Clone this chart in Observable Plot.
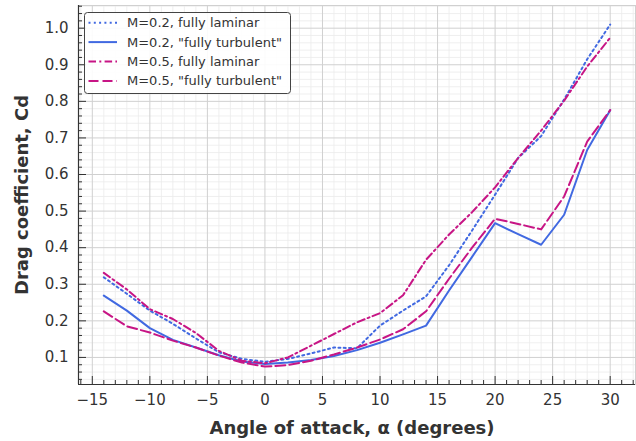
<!DOCTYPE html>
<html><head><meta charset="utf-8">
<script src="https://cdn.jsdelivr.net/npm/d3@7"></script>
<script src="https://cdn.jsdelivr.net/npm/@observablehq/plot@0.6"></script>
<style>
body{margin:0;background:#fff;}
#wrap{position:relative;width:636px;height:441px;font-family:"DejaVu Sans",sans-serif;}
#legend{position:absolute;left:84px;top:12px;}
</style>
</head><body><div id="wrap"></div>
<script>
const angles = [-14,-12,-10,-8,-6,-4,-2,0,2,4,6,8,10,12,14,16,18,20,22,24,26,28,30];
const m02Laminar   = [0.319,0.274,0.228,0.192,0.152,0.114,0.096,0.088,0.096,0.111,0.127,0.125,0.187,0.228,0.267,0.352,0.447,0.545,0.645,0.705,0.805,0.915,1.010];
const m02Turbulent = [0.269,0.228,0.180,0.148,0.127,0.106,0.089,0.082,0.086,0.093,0.104,0.120,0.140,0.163,0.187,0.283,0.375,0.467,0.437,0.408,0.490,0.667,0.776];
const m05Laminar   = [0.331,0.286,0.232,0.205,0.167,0.118,0.091,0.084,0.100,0.132,0.164,0.196,0.221,0.270,0.367,0.436,0.497,0.565,0.645,0.720,0.802,0.895,0.974];
const m05Turbulent = [0.226,0.185,0.168,0.146,0.127,0.105,0.086,0.075,0.079,0.091,0.108,0.127,0.149,0.177,0.226,0.315,0.400,0.479,0.465,0.450,0.540,0.690,0.776];

const seriesNames  = ["M=0.2, fully laminar", 'M=0.2, "fully turbulent"', "M=0.5, fully laminar", 'M=0.5, "fully turbulent"'];
const seriesValues = [m02Laminar, m02Turbulent, m05Laminar, m05Turbulent];
const seriesColors = ["#4169e1", "#4169e1", "#c71585", "#c71585"];
const seriesDash   = ["2,3.3", null, "7.5,3.3,2,3.3", "10,4"];

const xMajorTicks = [-15,-10,-5,0,5,10,15,20,25,30];
const yMajorTicks = [0.1,0.2,0.3,0.4,0.5,0.6,0.7,0.8,0.9,1.0];
const xMinorTicks = d3.range(-16, 33, 1).filter(v => v % 5 !== 0);
const yMinorTicks = d3.range(2, 54, 1).map(v => +(v*0.02).toFixed(2)).filter(v => Math.abs(v*10 - Math.round(v*10)) > 1e-6);
const xLabel = "Angle of attack, α (degrees)";
const yLabel = "Drag coefficient, Cd";
const xDomain = [-16.2, 32.2];
const yDomain = [0.026, 1.062];

const rows = seriesValues.flatMap((vals, i) => angles.map((a, j) => ({series: i, angle: a, cd: vals[j]})));
const fmtX = d => d < 0 ? "\u2212" + Math.abs(d) : String(d);
const fmtY = d3.format(".1f");

const chart = Plot.plot({
  width: 636, height: 441,
  marginTop: 5, marginRight: 1, marginBottom: 57, marginLeft: 78,
  x: {domain: xDomain},
  y: {domain: yDomain},
  style: {fontFamily: "DejaVu Sans", fontSize: "15px", color: "#333", background: "white", overflow: "visible"},
  marks: [
    Plot.gridX(xMinorTicks, {stroke: "#ebebeb", strokeOpacity: 1, strokeWidth: 0.8}),
    Plot.gridY(yMinorTicks, {stroke: "#ebebeb", strokeOpacity: 1, strokeWidth: 0.8}),
    Plot.gridX(xMajorTicks, {stroke: "#d0d0d0", strokeOpacity: 1, strokeWidth: 1}),
    Plot.gridY(yMajorTicks, {stroke: "#d0d0d0", strokeOpacity: 1, strokeWidth: 1}),
    Plot.frame({stroke: "#d0d0d0"}),
    ...seriesValues.map((_, i) => Plot.line(rows.filter(r => r.series === i), {
      x: "angle", y: "cd", stroke: seriesColors[i], strokeWidth: 2,
      strokeDasharray: seriesDash[i] ?? undefined
    })),
    Plot.ruleX([xDomain[0]], {stroke: "#333", strokeWidth: 1.2}),
    Plot.ruleY([yDomain[0]], {stroke: "#333", strokeWidth: 1.2}),
    Plot.axisX(xMajorTicks, {tickSize: -8, text: null, label: null, stroke: "#333"}),
    Plot.axisX(xMinorTicks, {tickSize: -4, text: null, label: null, stroke: "#333"}),
    Plot.axisY(yMajorTicks, {tickSize: -8, text: null, label: null, stroke: "#333"}),
    Plot.axisY(yMinorTicks, {tickSize: -4, text: null, label: null, stroke: "#333"}),
    Plot.axisX(xMajorTicks, {tickSize: 0, tickPadding: 10, tickFormat: fmtX, label: null, fontSize: 15, fill: "#333"}),
    Plot.axisY(yMajorTicks, {tickSize: 0, tickPadding: 10, tickFormat: fmtY, label: null, fontSize: 15, fill: "#333"}),
    Plot.text([xLabel], {frameAnchor: "bottom", dy: 44, dx: -5, lineAnchor: "middle", textAnchor: "middle", fontWeight: "bold", fontSize: 18, fill: "#333"}),
    Plot.text([yLabel], {frameAnchor: "left", dx: -56, rotate: -90, lineAnchor: "middle", textAnchor: "middle", fontWeight: "bold", fontSize: 18, fill: "#333"})
  ]
});

const wrap = document.getElementById("wrap");
wrap.appendChild(chart);

// legend
const ns = "http://www.w3.org/2000/svg";
const lg = document.createElementNS(ns, "svg");
lg.setAttribute("id", "legend");
lg.setAttribute("width", 208);
lg.setAttribute("height", 83);
const box = document.createElementNS(ns, "rect");
box.setAttribute("x", 0.5); box.setAttribute("y", 0.5);
box.setAttribute("width", 206); box.setAttribute("height", 81);
box.setAttribute("rx", 3);
box.setAttribute("fill", "white"); box.setAttribute("fill-opacity", 0.9);
box.setAttribute("stroke", "#444"); box.setAttribute("stroke-width", 1);
lg.appendChild(box);
seriesNames.forEach((name, i) => {
  const cy = 10.7 + i * 19.4;
  const ln = document.createElementNS(ns, "line");
  ln.setAttribute("x1", 4.5); ln.setAttribute("x2", 33);
  ln.setAttribute("y1", cy); ln.setAttribute("y2", cy);
  ln.setAttribute("stroke", seriesColors[i]); ln.setAttribute("stroke-width", 2);
  if (seriesDash[i]) ln.setAttribute("stroke-dasharray", seriesDash[i]);
  lg.appendChild(ln);
  const tx = document.createElementNS(ns, "text");
  tx.setAttribute("x", 43); tx.setAttribute("y", cy);
  tx.setAttribute("dy", "0.35em");
  tx.setAttribute("font-family", "DejaVu Sans");
  tx.setAttribute("font-size", 13);
  tx.setAttribute("fill", "#333");
  tx.textContent = name;
  lg.appendChild(tx);
});
wrap.appendChild(lg);
</script>
</body></html>
